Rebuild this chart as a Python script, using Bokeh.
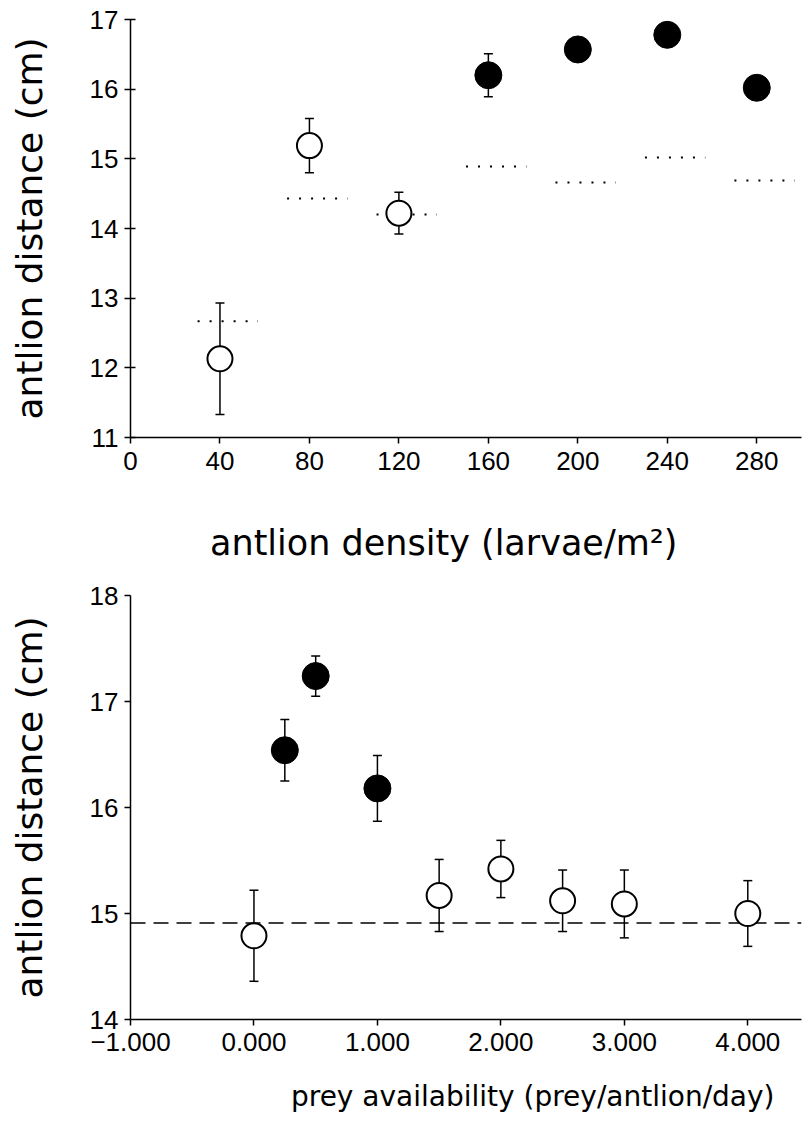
from bokeh.plotting import figure
from bokeh.models import Whisker, TeeHead, ColumnDataSource, Span, FixedTicker
from bokeh.layouts import column
from bokeh.embed import file_html
from bokeh.resources import INLINE

# ---------------- data: top panel ----------------
density = [40, 80, 120, 160, 200, 240, 280]
dist_top = [12.13, 15.19, 14.22, 16.20, 16.57, 16.78, 16.02]
se_top = [0.80, 0.39, 0.30, 0.31, 0.12, 0.12, 0.12]
filled_top = [False, False, False, True, True, True, True]
expected_top = [12.67, 14.43, 14.20, 14.89, 14.66, 15.02, 14.69]
top_xticks = [0, 40, 80, 120, 160, 200, 240, 280]
top_yticks = [11, 12, 13, 14, 15, 16, 17]

# ---------------- data: bottom panel ----------------
prey = [0.0, 0.25, 0.5, 1.0, 1.5, 2.0, 2.5, 3.0, 4.0]
dist_bot = [14.79, 16.54, 17.24, 16.18, 15.17, 15.42, 15.12, 15.09, 15.00]
se_bot = [0.43, 0.29, 0.19, 0.31, 0.34, 0.27, 0.29, 0.32, 0.31]
filled_bot = [False, True, True, True, False, False, False, False, False]
baseline_bot = 14.91
bot_xticks = [-1, 0, 1, 2, 3, 4]
bot_xlabels = ["\u22121.000", "0.000", "1.000", "2.000", "3.000", "4.000"]
bot_yticks = [14, 15, 16, 17, 18]

TICK_FONT = "Liberation Sans, Arial, sans-serif"
TITLE_FONT = "DejaVu Sans"
NBSP = "\u00a0"


def style(p, y_in, x_standoff):
    p.outline_line_color = None
    p.xgrid.grid_line_color = None
    p.ygrid.grid_line_color = None
    for ax in (p.xaxis[0], p.yaxis[0]):
        ax.axis_line_width = 1.5
        ax.axis_line_color = "black"
        ax.major_tick_line_width = 1.5
        ax.major_tick_line_color = "black"
        ax.major_tick_out = 6
        ax.major_tick_in = 0
        ax.minor_tick_line_color = None
        ax.major_label_text_font = TICK_FONT
        ax.major_label_text_font_size = "26px"
        ax.major_label_text_color = "black"
        ax.axis_label_text_font = TITLE_FONT
        ax.axis_label_text_font_style = "normal"
        ax.axis_label_text_color = "black"
    p.yaxis[0].major_tick_in = y_in
    p.xaxis[0].major_label_standoff = x_standoff
    p.yaxis[0].major_label_standoff = 6


def draw_points(p, xs, ys, se, filled):
    src = ColumnDataSource(dict(x=xs, upper=[y + e for y, e in zip(ys, se)],
                                lower=[y - e for y, e in zip(ys, se)]))
    w = Whisker(base="x", upper="upper", lower="lower", source=src,
                line_width=1.5, line_color="black", level="underlay",
                upper_head=TeeHead(size=9, line_width=1.5, line_color="black"),
                lower_head=TeeHead(size=9, line_width=1.5, line_color="black"))
    p.add_layout(w)
    ox = [x for x, f in zip(xs, filled) if not f]
    oy = [y for y, f in zip(ys, filled) if not f]
    fx = [x for x, f in zip(xs, filled) if f]
    fy = [y for y, f in zip(ys, filled) if f]
    p.scatter(ox, oy, marker="circle", size=25, fill_color="white",
              line_color="black", line_width=2)
    p.scatter(fx, fy, marker="circle", size=27, fill_color="black",
              line_color="black", line_width=1)


# ---------------- top figure ----------------
p1 = figure(width=804, height=580, x_range=(0, 300), y_range=(11, 17),
            output_backend="svg", toolbar_location=None,
            min_border_left=127, min_border_right=3, min_border_top=19,
            min_border_bottom=143)
style(p1, 5, 8)
p1.xaxis.ticker = FixedTicker(ticks=top_xticks)
p1.yaxis.ticker = FixedTicker(ticks=top_yticks)
p1.yaxis.axis_label = "antlion distance (cm)"
p1.yaxis.axis_label_text_font_size = "36px"
p1.yaxis.axis_label_standoff = 37
# trailing no-break spaces shift the centred title slightly left, as in the original
p1.xaxis.axis_label = "antlion density (larvae/m\u00b2)" + NBSP * 4
p1.xaxis.axis_label_text_font_size = "35px"
p1.xaxis.axis_label_standoff = 50

p1.segment(x0=[d - 10 for d in density], x1=[d + 17 for d in density],
           y0=expected_top, y1=expected_top, line_color="black",
           line_width=2, line_dash="2 10")
draw_points(p1, density, dist_top, se_top, filled_top)

# ---------------- bottom figure ----------------
p2 = figure(width=804, height=552, x_range=(-1, 4.435), y_range=(14, 18),
            output_backend="svg", toolbar_location=None,
            min_border_left=130, min_border_right=0, min_border_top=15,
            min_border_bottom=113)
style(p2, 0, 7)
p2.xaxis.ticker = FixedTicker(ticks=bot_xticks)
p2.xaxis.major_label_overrides = {float(t): s for t, s in zip(bot_xticks, bot_xlabels)}
p2.yaxis.ticker = FixedTicker(ticks=bot_yticks)
p2.yaxis.axis_label = "antlion distance (cm)"
p2.yaxis.axis_label_text_font_size = "36px"
p2.yaxis.axis_label_standoff = 37
# leading no-break spaces shift the centred title right, as in the original
p2.xaxis.axis_label = NBSP * 15 + "prey availability (prey/antlion/day)"
p2.xaxis.axis_label_text_font_size = "28px"
p2.xaxis.axis_label_standoff = 26

p2.add_layout(Span(location=baseline_bot, dimension="width", line_color="black",
                   line_width=1.5, line_dash="15 8", level="underlay"))
draw_points(p2, prey, dist_bot, se_bot, filled_bot)

layout = column(p1, p2)
open("out.html", "w").write(file_html(layout, INLINE))
